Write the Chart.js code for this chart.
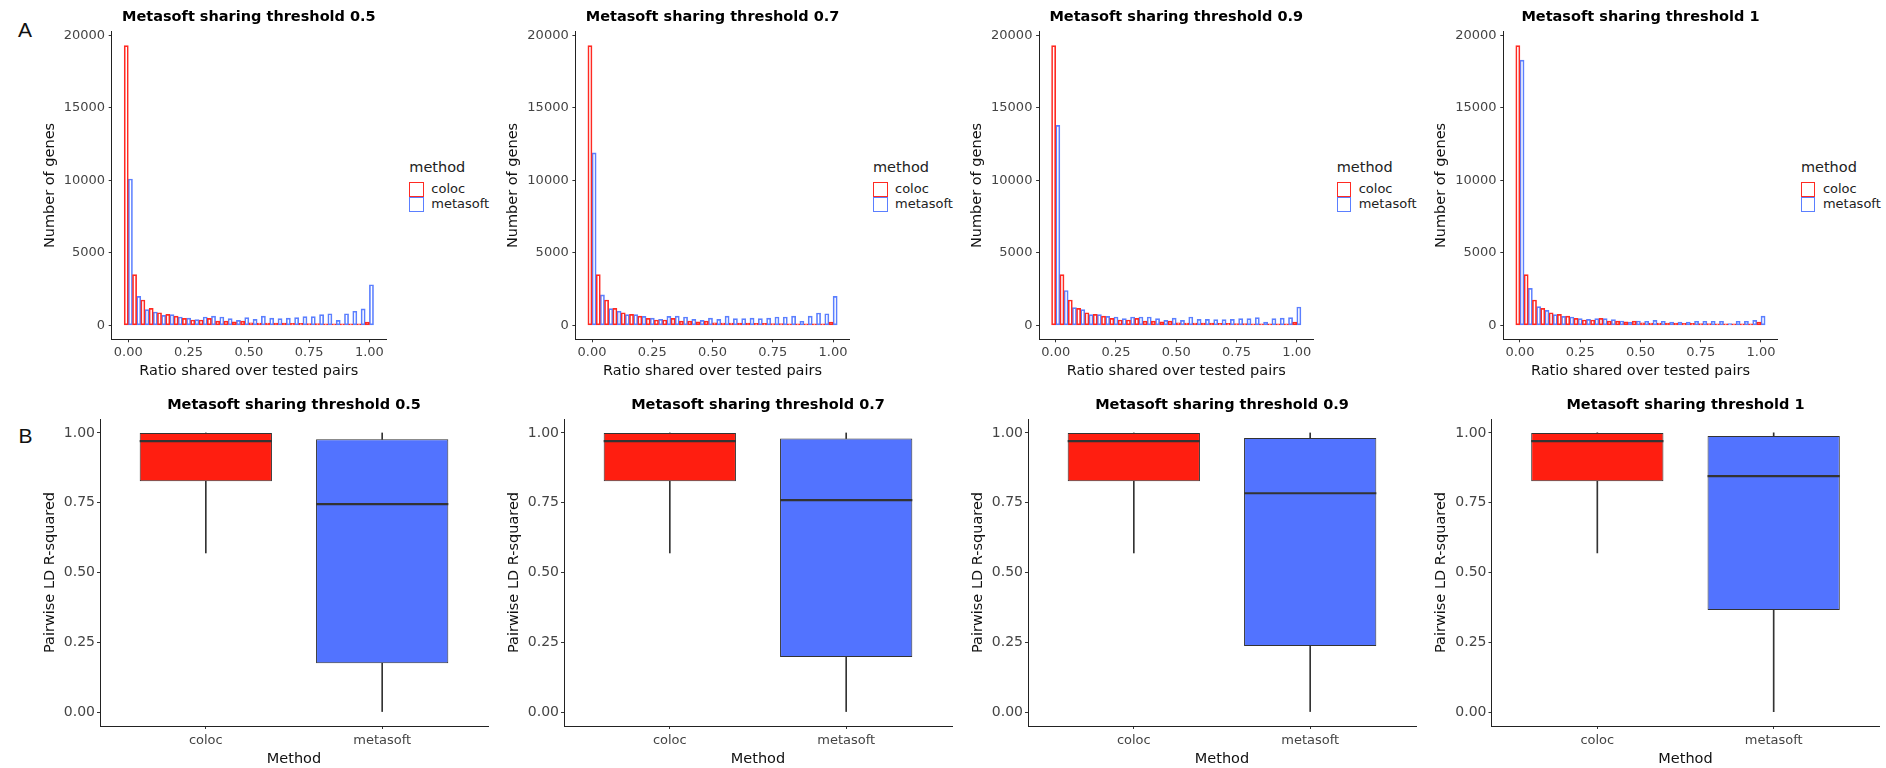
<!DOCTYPE html>
<html lang="en">
<head>
<meta charset="utf-8">
<title>Metasoft sharing thresholds</title>
<script src="https://cdn.jsdelivr.net/npm/chart.js@4.4.1/dist/chart.umd.min.js"></script>
<style>
  html, body { margin: 0; padding: 0; background: #fff; }
  #figure { position: relative; width: 1886px; height: 768px; overflow: hidden; font-family: "DejaVu Sans", Verdana, sans-serif; }
  #figure canvas { position: absolute; }
  .tag { position: absolute; font: 21px/21px "Liberation Sans", Arial, sans-serif; color: #111; }
  .legend { position: absolute; color: #222; }
  .legend .lt { position: absolute; left: 0; top: 0; font-size: 14.5px; line-height: 17px; white-space: nowrap; }
  .legend .key { position: absolute; left: 0; width: 14.5px; height: 14.5px; box-sizing: border-box; border: 1.3px solid; }
  .legend .kl { position: absolute; left: 22px; font-size: 13px; line-height: 16px; white-space: nowrap; }
</style>
</head>
<body>
<div id="figure">
  <div class="tag" style="left:18px; top:19px;">A</div>
  <div class="tag" style="left:18.5px; top:425px;">B</div>
</div>
<script>
const thresholds = ['0.5', '0.7', '0.9', '1'];
const methods = ['coloc', 'metasoft'];

// histogram: 30 bins of width 1/29 centred on 0 ... 1
const binWidth = 1 / 29;
const colocCounts = [19300, 3500, 1750, 1170, 870, 760, 640, 480, 370, 370, 480, 290, 290, 240, 290, 170, 160, 160, 150, 150, 140, 130, 120, 120, 110, 110, 110, 110, 110, 230];
const metasoft05 = [10100, 2000, 1080, 920, 690, 740, 575, 500, 390, 575, 640, 575, 460, 345, 530, 414, 640, 500, 460, 500, 530, 600, 600, 740, 800, 345, 800, 970, 1130, 2800];
const metasoft07 = [11900, 2100, 1150, 970, 740, 740, 620, 500, 414, 620, 640, 575, 414, 345, 500, 414, 640, 460, 460, 500, 460, 500, 575, 575, 640, 280, 640, 850, 800, 2000];
const metasoft09 = [13800, 2400, 1220, 1080, 740, 740, 620, 575, 460, 575, 575, 575, 460, 345, 500, 345, 575, 414, 414, 390, 390, 414, 460, 460, 530, 230, 460, 500, 530, 1265];
const metasoft1 = [18300, 2550, 1290, 1035, 740, 620, 575, 460, 414, 460, 460, 390, 300, 230, 300, 280, 345, 280, 230, 230, 230, 280, 280, 280, 280, 115, 280, 280, 345, 640];
const metasoftCounts = [metasoft05, metasoft07, metasoft09, metasoft1];
const ratioTicks = [0, 0.25, 0.5, 0.75, 1];
const countTicks = [0, 5000, 10000, 15000, 20000];

// boxplots: min, lower hinge, median, upper hinge, max
const colocLD = [0.57, 0.827, 0.971, 1.0, 1.0];
const metasoftLD05 = [0, 0.175, 0.745, 0.977, 1.0];
const metasoftLD07 = [0, 0.197, 0.759, 0.980, 1.0];
const metasoftLD09 = [0, 0.237, 0.784, 0.982, 1.0];
const metasoftLD1 = [0, 0.366, 0.845, 0.989, 1.0];
const metasoftLD = [metasoftLD05, metasoftLD07, metasoftLD09, metasoftLD1];
const ldTicks = [0, 0.25, 0.5, 0.75, 1];

const RED = '#ff2a22';
const BLUE = '#5b7fff';
const BOX_RED = '#ff1e10';
const BOX_BLUE = '#5273ff';
const INK = '#333333';
const TICK = '#444444';
const FONT = '"DejaVu Sans", Verdana, sans-serif';

// panel layout
const topAxisX = [111.7, 575.4, 1039.1, 1503.3];
const bottomAxisX = [100, 564, 1028, 1491.5];
const HIST_W = 274.3;
const BOX_W = 388;

const fig = document.getElementById('figure');

function addCanvas(left, top, width, height) {
  const c = document.createElement('canvas');
  c.width = width;
  c.height = height;
  c.style.left = left + 'px';
  c.style.top = top + 'px';
  fig.appendChild(c);
  return c;
}

function addLegend(left, top) {
  const d = document.createElement('div');
  d.className = 'legend';
  d.style.left = left + 'px';
  d.style.top = top + 'px';
  d.innerHTML =
    '<div class="lt">method</div>' +
    '<div class="key" style="top:23.5px;border-color:' + RED + '"></div>' +
    '<div class="key" style="top:38.5px;border-color:' + BLUE + '"></div>' +
    '<div class="kl" style="top:22.5px">' + methods[0] + '</div>' +
    '<div class="kl" style="top:37.8px">' + methods[1] + '</div>';
  fig.appendChild(d);
}

function fixedTicks(values) {
  return s => { s.ticks = values.map(v => ({ value: v })); };
}

function tickMarks() {
  return { display: true, drawOnChartArea: false, drawTicks: true, tickLength: 3, color: INK, offset: false };
}

function axisTitle(text, pad) {
  return { display: true, text: text, color: '#111', font: { family: FONT, size: 14.5 }, padding: pad };
}

function plotTitle(t, top, bottom) {
  return {
    display: true,
    text: 'Metasoft sharing threshold ' + t,
    fullSize: false,
    color: '#000',
    font: { family: FONT, size: 14.5, weight: 'bold' },
    padding: { top: top, bottom: bottom }
  };
}

function histSet(label, counts, color) {
  return {
    label: label,
    data: counts.map((c, k) => ({ x: k * binWidth, y: c })),
    borderColor: color,
    backgroundColor: 'rgba(255,255,255,0)',
    borderWidth: 1,
    borderSkipped: false,
    barPercentage: 1,
    categoryPercentage: 1
  };
}

// histograms, top row
thresholds.forEach((t, i) => {
  const axisX = topAxisX[i];
  const left = Math.round(axisX - 90);
  const yW = axisX - left;
  const width = Math.ceil(yW + HIST_W + 12);
  const height = 384;
  const series = metasoftCounts[i];
  const peak = Math.max(...colocCounts, ...series);
  const xPad = 0.05 * (1 + binWidth);

  new Chart(addCanvas(left, 0, width, height), {
    type: 'bar',
    data: { datasets: [histSet('coloc', colocCounts, RED), histSet('metasoft', series, BLUE)] },
    options: {
      responsive: false,
      animation: false,
      events: [],
      layout: { padding: { left: 0, top: 0, bottom: 0, right: width - yW - HIST_W } },
      plugins: {
        legend: { display: false },
        tooltip: { enabled: false },
        title: plotTitle(t, 8.3, 6)
      },
      scales: {
        x: {
          type: 'linear',
          min: -binWidth / 2 - xPad,
          max: 1 + binWidth / 2 + xPad,
          offset: false,
          grid: tickMarks(),
          border: { display: true, color: '#222', width: 1 },
          ticks: {
            autoSkip: false, maxRotation: 0,
            padding: 3, color: TICK, font: { family: FONT, size: 13 },
            callback: v => Number(v).toFixed(2)
          },
          afterBuildTicks: fixedTicks(ratioTicks),
          title: axisTitle('Ratio shared over tested pairs', { top: 0, bottom: 3.6 }),
          afterFit: s => { s.height = height - 339.3; }
        },
        y: {
          min: -0.05 * peak,
          max: 1.05 * peak,
          grid: tickMarks(),
          border: { display: true, color: '#222', width: 1 },
          ticks: {
            autoSkip: false,
            padding: 3.7, color: TICK, font: { family: FONT, size: 13 },
            callback: v => String(v)
          },
          afterBuildTicks: fixedTicks(countTicks),
          title: axisTitle('Number of genes', { top: yW - 61.7 - 8.7, bottom: 0 }),
          afterFit: s => { s.width = yW; }
        }
      }
    }
  });

  addLegend(axisX + 297.6, 158.5);
});

// thick median bar across each box
const medianLine = {
  id: 'medianLine',
  afterDatasetsDraw(chart, args, opts) {
    const meta = chart.getDatasetMeta(opts.boxIndex);
    const y = chart.scales.y;
    const ctx = chart.ctx;
    ctx.save();
    ctx.strokeStyle = INK;
    ctx.lineWidth = 2.2;
    meta.data.forEach((bar, k) => {
      const py = y.getPixelForValue(opts.values[k]);
      ctx.beginPath();
      ctx.moveTo(bar.x - bar.width / 2, py);
      ctx.lineTo(bar.x + bar.width / 2, py);
      ctx.stroke();
    });
    ctx.restore();
  }
};

// boxplots, bottom row
thresholds.forEach((t, i) => {
  const axisX = bottomAxisX[i];
  const left = Math.round(axisX - 80);
  const yW = axisX - left;
  const width = Math.ceil(yW + BOX_W + 4);
  const height = 383;
  const stats = [colocLD, metasoftLD[i]];

  new Chart(addCanvas(left, 385, width, height), {
    type: 'bar',
    data: {
      datasets: [
        {
          label: 'lower whisker',
          data: stats.map((s, k) => ({ x: k + 1, y: [s[0], s[1]] })),
          backgroundColor: INK, barThickness: 1, grouped: false, order: 2
        },
        {
          label: 'upper whisker',
          data: stats.map((s, k) => ({ x: k + 1, y: [s[3], s[4]] })),
          backgroundColor: INK, barThickness: 1, grouped: false, order: 2
        },
        {
          label: 'box',
          data: stats.map((s, k) => ({ x: k + 1, y: [s[1], s[3]] })),
          backgroundColor: [BOX_RED, BOX_BLUE],
          borderColor: INK,
          borderWidth: 1,
          borderSkipped: false,
          barPercentage: 0.75,
          categoryPercentage: 1,
          grouped: false,
          order: 1
        }
      ]
    },
    options: {
      responsive: false,
      animation: false,
      events: [],
      layout: { padding: { left: 0, top: 0, bottom: 0, right: width - yW - BOX_W } },
      plugins: {
        legend: { display: false },
        tooltip: { enabled: false },
        title: plotTitle(t, 11.3, 5.3),
        medianLine: { boxIndex: 2, values: stats.map(s => s[2]) }
      },
      scales: {
        x: {
          type: 'linear',
          min: 0.4,
          max: 2.6,
          offset: false,
          grid: tickMarks(),
          border: { display: true, color: '#222', width: 1 },
          ticks: {
            autoSkip: false, maxRotation: 0,
            padding: 3.6, color: TICK, font: { family: FONT, size: 13 },
            callback: v => methods[Math.round(v) - 1]
          },
          afterBuildTicks: fixedTicks([1, 2]),
          title: axisTitle('Method', { top: 0, bottom: 0 }),
          afterFit: s => { s.height = 42; }
        },
        y: {
          min: -0.05,
          max: 1.05,
          grid: tickMarks(),
          border: { display: true, color: '#222', width: 1 },
          ticks: {
            autoSkip: false,
            padding: 2, color: TICK, font: { family: FONT, size: 14 },
            callback: v => Number(v).toFixed(2)
          },
          afterBuildTicks: fixedTicks(ldTicks),
          title: axisTitle('Pairwise LD R-squared', { top: yW - 50 - 8.7, bottom: 0 }),
          afterFit: s => { s.width = yW; }
        }
      }
    },
    plugins: [medianLine]
  });
});
</script>
</body>
</html>
